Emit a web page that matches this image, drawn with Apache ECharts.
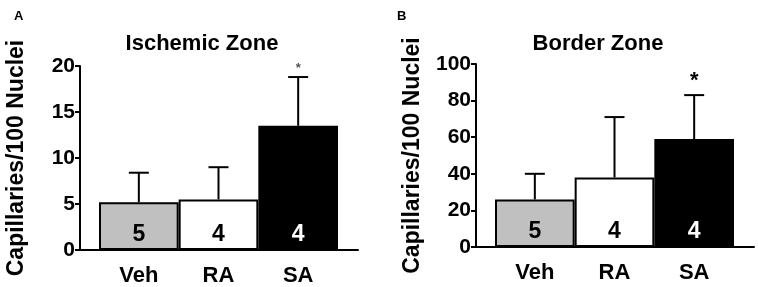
<!DOCTYPE html>
<html>
<head>
<meta charset="utf-8">
<script src="https://cdn.jsdelivr.net/npm/echarts@6/dist/echarts.min.js"></script>
<style>
  html, body { margin: 0; padding: 0; background: #fff; }
  #chart { width: 758px; height: 287px; }
</style>
</head>
<body>
<div id="chart"></div>
<script>
// groups and n per group
const categories = ['Veh', 'RA', 'SA']
const nLabels = ['5', '4', '4']
const starLabels = ['', '', '*']

// Ischemic zone: mean and top of error bar
const ischemicMean = [5.2, 5.5, 13.5]
const ischemicUpper = [8.4, 9.0, 18.8]
const ischemicTicks = [0, 20, 5] // min, max, step

// Border zone
const borderMean = [26, 38, 59]
const borderUpper = [40, 71, 83]
const borderTicks = [0, 100, 20]

const barColors = ['#c0c0c0', '#ffffff', '#000000']
const nColors = ['#000', '#000', '#fff']

const FONT = '"Liberation Sans", Arial, sans-serif'

const chart = echarts.init(document.getElementById('chart'))

// one panel = outer grid (axis lines) + inner grid (bars)
function panel(offset, top, bottom) {
  return [
    { left: 80 + offset, width: 278, top: top, height: bottom - top },
    { left: 99 + offset, width: 239, top: top, height: bottom - top }
  ]
}

function yAxes(ticks, gridBase, name) {
  return [
    {
      type: 'value', gridIndex: gridBase, min: ticks[0], max: ticks[1], interval: ticks[2],
      name: name, nameLocation: 'middle', nameGap: 52, nameRotate: 90,
      nameTextStyle: { fontFamily: FONT, fontWeight: 'bold', fontSize: 23, color: '#000' },
      axisLine: { show: true, lineStyle: { color: '#000', width: 2 } },
      axisTick: { show: true, length: 5, lineStyle: { color: '#000', width: 2 } },
      axisLabel: { fontFamily: FONT, fontWeight: 'bold', fontSize: 21, color: '#000', margin: 5 },
      splitLine: { show: false }
    },
    {
      type: 'value', gridIndex: gridBase + 1, min: ticks[0], max: ticks[1],
      show: false, splitLine: { show: false }
    }
  ]
}

function xAxes(gridBase) {
  return [
    {
      type: 'value', gridIndex: gridBase, min: 0, max: 1,
      axisLine: { show: true, onZero: false, lineStyle: { color: '#000', width: 2 } },
      axisTick: { show: false }, axisLabel: { show: false }, splitLine: { show: false }
    },
    {
      type: 'category', gridIndex: gridBase + 1, data: categories,
      axisLine: { show: false }, axisTick: { show: false },
      axisLabel: { fontFamily: FONT, fontWeight: 'bold', fontSize: 22, color: '#000', margin: 15 }
    }
  ]
}

function barSeries(axisIdx, means) {
  return {
    type: 'bar', xAxisIndex: axisIdx, yAxisIndex: axisIdx,
    barCategoryGap: 0,
    data: means.map((v, i) => ({
      value: v,
      itemStyle: { color: barColors[i], borderColor: '#000', borderWidth: 2 },
      label: {
        show: true, position: 'insideBottom', distance: 4,
        formatter: nLabels[i],
        fontFamily: FONT, fontWeight: 'bold', fontSize: 23, color: nColors[i]
      }
    }))
  }
}

function errorSeries(axisIdx, means, uppers, starSize, starColor, starGap) {
  return {
    type: 'custom', xAxisIndex: axisIdx, yAxisIndex: axisIdx, z: 3,
    data: means.map((v, i) => [i, v, uppers[i]]),
    renderItem: function (params, api) {
      const i = api.value(0)
      const lo = api.coord([i, api.value(1)])
      const hi = api.coord([i, api.value(2)])
      const st = { stroke: '#000', lineWidth: 2 }
      const children = [
        { type: 'line', shape: { x1: lo[0], y1: lo[1], x2: hi[0], y2: hi[1] }, style: st },
        { type: 'line', shape: { x1: hi[0] - 10, y1: hi[1], x2: hi[0] + 10, y2: hi[1] }, style: st }
      ]
      if (starLabels[i]) {
        children.push({
          type: 'text',
          style: {
            text: starLabels[i], x: hi[0], y: hi[1] - starGap,
            align: 'center', verticalAlign: 'bottom',
            font: 'bold ' + starSize + 'px ' + FONT, fill: starColor
          }
        })
      }
      return { type: 'group', children: children }
    }
  }
}

const option = {
  animation: false,
  backgroundColor: '#fff',
  title: [
    { text: 'A', left: 9, top: 5, textStyle: { fontFamily: FONT, fontWeight: 'bold', fontSize: 13, color: '#000' } },
    { text: 'B', left: 392, top: 5, textStyle: { fontFamily: FONT, fontWeight: 'bold', fontSize: 13, color: '#000' } },
    { text: 'Ischemic Zone', left: 197, top: 28, textAlign: 'center', textStyle: { fontFamily: FONT, fontWeight: 'bold', fontSize: 22, color: '#000' } },
    { text: 'Border Zone', left: 593, top: 28, textAlign: 'center', textStyle: { fontFamily: FONT, fontWeight: 'bold', fontSize: 22, color: '#000' } }
  ],
  grid: panel(0, 66, 250).concat(panel(396, 64, 247)),
  xAxis: xAxes(0).concat(xAxes(2)),
  yAxis: yAxes(ischemicTicks, 0, 'Capillaries/100 Nuclei').concat(yAxes(borderTicks, 2, 'Capillaries/100 Nuclei')),
  series: [
    barSeries(1, ischemicMean),
    errorSeries(1, ischemicMean, ischemicUpper, 13, '#555', 2),
    barSeries(3, borderMean),
    errorSeries(3, borderMean, borderUpper, 22, '#000', 3)
  ]
}

chart.setOption(option)
</script>
</body>
</html>
